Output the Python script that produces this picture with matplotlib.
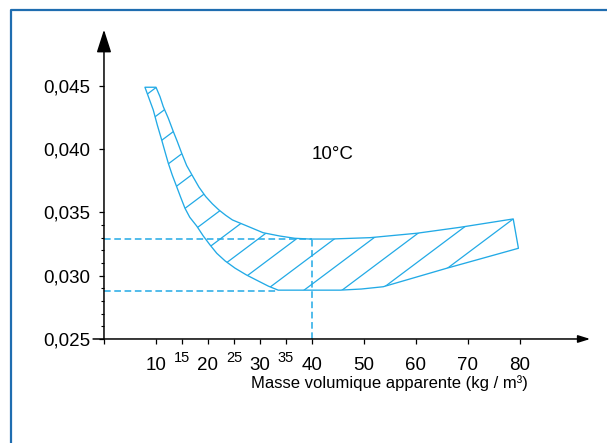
#!/usr/bin/env python3
"""Conductivité thermique vs masse volumique apparente (10 °C)."""

import matplotlib

matplotlib.use("Agg")
import matplotlib.pyplot as plt
import numpy as np
from matplotlib.patches import Polygon

plt.rcParams["font.family"] = ["Liberation Sans", "DejaVu Sans"]
plt.rcParams["lines.scale_dashes"] = False

# outer (upper / right) boundary of the band
UPPER_X = [10.0, 10.77, 11.4, 12.37, 13.33, 14.1, 14.94, 15.9, 17.1, 18.27, 19.56,
           20.83, 22.1, 23.4, 24.7, 28.1, 30.6, 33.8, 36.7, 39.6, 43.5, 51.2, 60.2,
           68.5, 78.7]
UPPER_Y = [0.0449, 0.04416, 0.04337, 0.04245, 0.04140, 0.04061, 0.03969, 0.03871,
           0.03784, 0.03700, 0.03626, 0.03569, 0.03520, 0.03478, 0.03441, 0.03383,
           0.03340, 0.03314, 0.03296, 0.03290, 0.03290, 0.03301, 0.03336, 0.03383,
           0.03449]
# inner (lower / left) boundary
LOWER_X = [7.88, 8.65, 9.48, 10.25, 11.1, 11.73, 12.37, 13.13, 13.98, 14.75, 15.58,
           16.5, 17.83, 19.1, 20.4, 21.7, 23.3, 25.2, 27.4, 29.4, 31.6, 33.5, 45.4,
           49.5, 53.7, 65.9, 79.7]
LOWER_Y = [0.0449, 0.04403, 0.04310, 0.04192, 0.04073, 0.03981, 0.03889, 0.03796,
           0.03704, 0.03620, 0.03533, 0.03462, 0.03393, 0.03314, 0.03243, 0.03177,
           0.03117, 0.03060, 0.03006, 0.02964, 0.02918, 0.02886, 0.02886, 0.02895,
           0.02913, 0.03059, 0.03217]

DASH_HIGH = 0.0329
DASH_LOW = 0.0288
DASH_X = 40
DASH_LOW_END = 33.5

Y_TICKS = [0.025, 0.030, 0.035, 0.040, 0.045]
Y_LABELS = ["0,025", "0,030", "0,035", "0,040", "0,045"]
Y_MINOR = [0.026, 0.027, 0.028, 0.029, 0.031, 0.032, 0.033, 0.034]
X_TICKS = [0, 10, 20, 30, 40, 50, 60, 70, 80]
X_LABELS = ["", "10", "20", "30", "40", "50", "60", "70", "80"]
X_MINOR = [15, 25, 35]
X_MINOR_LABELS = ["15", "25", "35"]

BLUE = "#22aae6"
FRAME = "#1f6db0"

# hatch: parallel lines, slope and spacing in data units
HATCH_SLOPE = 3.08e-4
HATCH_STEP = 0.002253
HATCH_COUNT = 15


def main() -> None:
    fig = plt.figure(figsize=(6.07, 4.43), dpi=100)
    ax = fig.add_axes([0.1713, 0.2348, 0.8224, 0.7139])
    ax.set_xlim(0, 96)
    ax.set_ylim(0.025, 0.050)
    for s in ax.spines.values():
        s.set_visible(False)

    # band outline
    xs = LOWER_X + UPPER_X[::-1]
    ys = LOWER_Y + UPPER_Y[::-1]
    band = Polygon(np.column_stack([xs, ys]), closed=True, fill=False,
                   edgecolor=BLUE, linewidth=0.95, joinstyle="round", zorder=3)
    ax.add_patch(band)

    # hatch lines clipped to the band, the last one through the top-right corner
    cx, cy = UPPER_X[-1], UPPER_Y[-1]
    hx = np.array([0, 96])
    for k in range(HATCH_COUNT):
        b = cy - HATCH_SLOPE * cx + k * HATCH_STEP
        (ln,) = ax.plot(hx, b + HATCH_SLOPE * hx, color=BLUE, lw=0.9, zorder=2)
        ln.set_clip_path(band)

    # dashed guides
    dash = dict(color=BLUE, lw=1.1, ls=(0, (4.8, 2.6)), zorder=2)
    ax.plot([0, DASH_X], [DASH_HIGH, DASH_HIGH], **dash)
    ax.plot([0, DASH_LOW_END], [DASH_LOW, DASH_LOW], **dash)
    ax.plot([DASH_X, DASH_X], [0.025, DASH_HIGH], **dash)

    # axes with arrows
    ax.annotate("", xy=(0, 0.04945), xytext=(0, 0.0250), annotation_clip=False,
                arrowprops=dict(arrowstyle="-|>,head_length=1.0,head_width=0.32",
                                color="black", lw=1.1, mutation_scale=14,
                                shrinkA=0, shrinkB=0))
    ax.annotate("", xy=(93.5, 0.025), xytext=(-2.1, 0.025), annotation_clip=False,
                arrowprops=dict(arrowstyle="-|>,head_length=0.8,head_width=0.25",
                                color="black", lw=1.1, mutation_scale=9,
                                shrinkA=0, shrinkB=0))

    ax.set_yticks(Y_TICKS, Y_LABELS)
    ax.set_yticks(Y_MINOR, minor=True)
    ax.tick_params(axis="y", which="major", direction="out", length=3.5, width=0.9,
                   pad=6.5, labelsize=13.5)
    ax.tick_params(axis="y", which="minor", direction="out", length=2.5, width=0.8)

    ax.set_xticks(X_TICKS, X_LABELS)
    ax.set_xticks(X_MINOR, X_MINOR_LABELS, minor=True)
    ax.tick_params(axis="x", which="major", direction="out", length=3.5, width=0.9,
                   pad=9.5, labelsize=13.5)
    ax.tick_params(axis="x", which="minor", direction="out", length=3.5, width=0.9,
                   pad=5.5, labelsize=10.5)

    ax.text(44, 0.03955, "10°C", fontsize=13.5, ha="center", va="center")
    fig.text(528 / 607, 1 - 383 / 443, "Masse volumique apparente (kg / m³)",
             fontsize=12, ha="right", va="center")

    # blue frame (open on the right and bottom, as cropped)
    fig.add_artist(plt.Line2D([11 / 607, 11 / 607, 1.0], [0.0, 1 - 10 / 443, 1 - 10 / 443],
                              transform=fig.transFigure, color=FRAME, lw=1.6))

    fig.savefig("out.png", dpi=100)
    plt.close(fig)


if __name__ == "__main__":
    main()
